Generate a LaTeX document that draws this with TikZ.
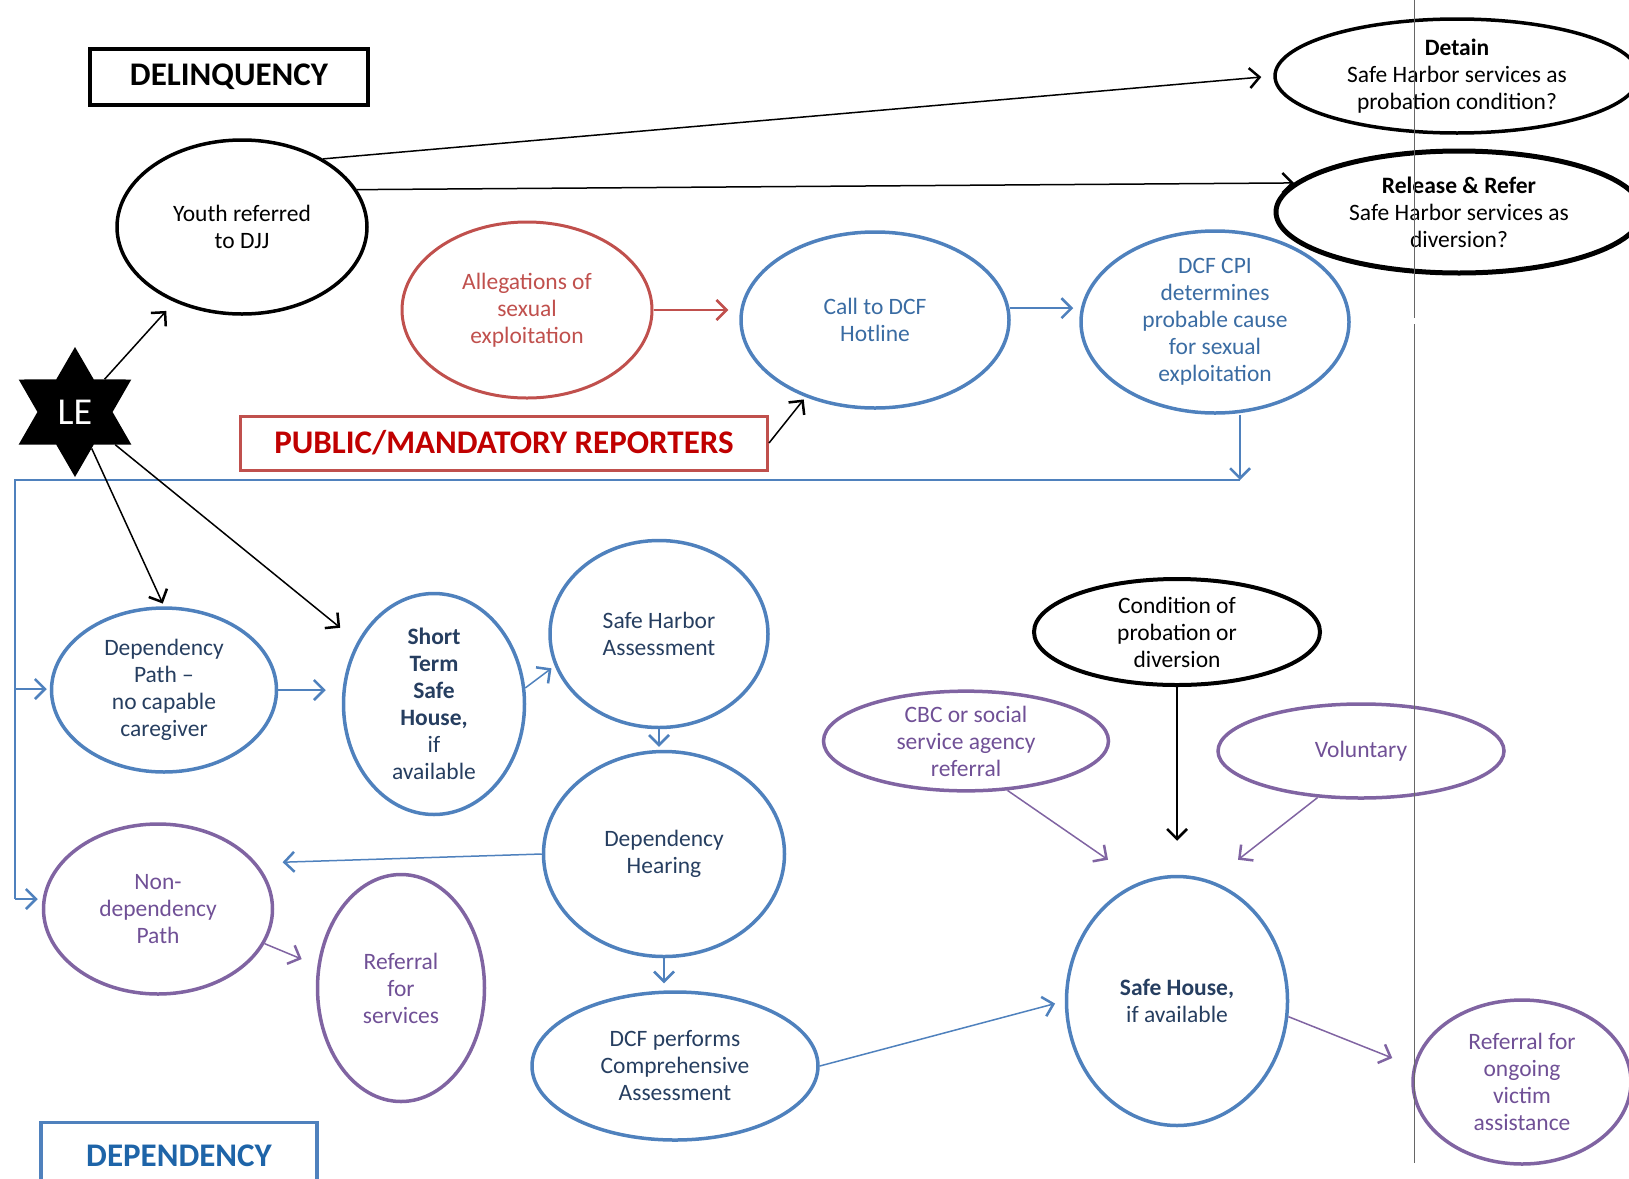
\documentclass[tikz,border=0pt]{standalone}
\usepackage{fontspec}
\setmainfont{Carlito}
\usetikzlibrary{shapes.geometric, arrows.meta}
\definecolor{ocblue}{RGB}{79,129,189}
\definecolor{ocred}{RGB}{192,80,77}
\definecolor{ocpurple}{RGB}{128,100,162}
\definecolor{navytext}{RGB}{38,62,96}
\definecolor{bluetext}{RGB}{58,108,163}
\definecolor{purpletext}{RGB}{112,80,150}
\definecolor{darkred}{RGB}{192,0,0}
\definecolor{deptext}{RGB}{30,100,168}

\tikzset{
  oval/.style={ellipse, inner sep=0pt, align=center, font=\fontsize{23.5}{27}\selectfont},
  blackoval/.style={oval, draw=black, line width=3.5pt},
  blueoval/.style={oval, draw=ocblue, line width=3.5pt, text=navytext},
  purpleoval/.style={oval, draw=ocpurple, line width=3.5pt, text=purpletext},
  redoval/.style={oval, draw=ocred, line width=3pt, text=ocred},
  titlebox/.style={rectangle, inner sep=0pt, font=\fontsize{33}{38}\selectfont\bfseries},
  arr/.style={line width=1.5pt, -{Straight Barb[length=10pt,width=20pt,line width=2.5pt]}},
  blackarr/.style={arr, draw=black},
  bluearr/.style={arr, draw=ocblue},
  redarr/.style={arr, draw=ocred},
  purplearr/.style={arr, draw=ocpurple}
}

\begin{document}
\begin{tikzpicture}[x=1pt, y=-1pt]
    \useasboundingbox (0,0) rectangle (1629,1178);

    % Delinquency
    \node[titlebox, draw=black, line width=3.5pt, minimum width=278pt, minimum height=56pt] (delinq) at (229,77) {DELINQUENCY};
    \node[blackoval, minimum width=250pt, minimum height=174pt] (youth) at (242,227) {Youth referred\\to DJJ};
    \node[blackoval, minimum width=364pt, minimum height=114pt] (detain) at (1457,76) {\textbf{Detain}\\Safe Harbor services as\\probation condition?};
    \node[blackoval, line width=5pt, minimum width=366pt, minimum height=122pt] (release) at (1459,212) {\textbf{Release \& Refer}\\Safe Harbor services as\\diversion?};
    \node[star, star points=6, star point ratio=1.73, fill=black, minimum size=130pt, inner sep=0pt, text=white, font=\fontsize{38}{42}\selectfont] (le) at (75,412) {LE};

    % Reporting
    \node[redoval, minimum width=250pt, minimum height=176pt] (alleg) at (527,310) {Allegations of\\sexual\\exploitation};
    \node[blueoval, text=bluetext, minimum width=268pt, minimum height=176pt] (call) at (875,320) {Call to DCF\\Hotline};
    \node[blueoval, text=bluetext, minimum width=268pt, minimum height=182pt] (cpi) at (1215,322) {DCF CPI\\determines\\probable cause\\for sexual\\exploitation};
    \node[titlebox, draw=ocred, line width=3pt, text=darkred, minimum width=527pt, minimum height=54pt] (public) at (504,443) {PUBLIC/MANDATORY REPORTERS};

    % Dependency
    \node[blueoval, minimum width=225pt, minimum height=164pt] (deppath) at (164,690) {Dependency\\Path –\\no capable\\caregiver};
    \node[blueoval, minimum width=181pt, minimum height=221pt] (shortterm) at (434,704) {\textbf{Short}\\\textbf{Term}\\\textbf{Safe}\\\textbf{House,}\\if\\available};
    \node[blueoval, minimum width=218pt, minimum height=187pt] (sha) at (659,634) {Safe Harbor\\Assessment};
    \node[blueoval, minimum width=241pt, minimum height=205pt] (hear) at (664,854) {Dependency\\Hearing};
    \node[blueoval, minimum width=286pt, minimum height=148pt] (dcfa) at (675,1066) {DCF performs\\Comprehensive\\Assessment};
    \node[purpleoval, minimum width=229pt, minimum height=170pt] (nondep) at (158,909) {Non-\\dependency\\Path};
    \node[purpleoval, minimum width=167pt, minimum height=227pt] (refsvc) at (401,988) {Referral\\for\\services};
    \node[titlebox, draw=ocblue, line width=3.5pt, text=deptext, minimum width=276pt, minimum height=67pt] (depbox) at (179,1156) {DEPENDENCY};

    % Safe house
    \node[blackoval, line width=4pt, minimum width=286pt, minimum height=106pt] (cond) at (1177,632) {Condition of\\probation or\\diversion};
    \node[purpleoval, minimum width=285pt, minimum height=99pt] (cbc) at (966,741) {CBC or social\\service agency\\referral};
    \node[purpleoval, minimum width=286pt, minimum height=94pt] (vol) at (1361,751) {Voluntary};
    \node[blueoval, minimum width=221pt, minimum height=249pt] (safe) at (1177,1001) {\textbf{Safe House,}\\if available};
    \node[purpleoval, minimum width=218pt, minimum height=164pt] (refong) at (1522,1082) {Referral for\\ongoing\\victim\\assistance};

    % Rail
    \coordinate (junc) at (1240,480);
    \coordinate (railtop) at (15,480);
    \coordinate (railmid) at (15,689);
    \coordinate (railend) at (15,899);
    \draw[bluearr] (junc |- cpi.south) -- (junc);
    \draw[ocblue, line width=1.5pt] (junc) -- (railtop) -- (railend);
    \draw[bluearr, shorten >=3pt] (railmid) -- (railmid -| deppath.west);
    \draw[bluearr, shorten >=4pt] (railend) -- (railend -| nondep.west);

    % Connectors
    \draw[blackarr, shorten >=12pt] (youth.40) -- (detain.west);
    \draw[blackarr] (youth.18) -- (release.170);
    \draw[blackarr, shorten >=12pt] (le) -- (youth);
    \draw[blackarr, shorten >=3pt] (le) -- (deppath.north);
    \draw[blackarr, shorten >=22pt] (le) -- (shortterm);
    \draw[redarr, shorten >=11pt] (alleg.east) -- (alleg.east -| call.west);
    \draw[bluearr, shorten >=6pt] (call.5) -- (call.5 -| cpi.west);
    \draw[blackarr, shorten >=3pt] (public.east) -- (call.228);
    \draw[bluearr, shorten >=16pt] (deppath.east) -- (deppath.east -| shortterm.west);
    \draw[bluearr, shorten >=4pt] (shortterm.10) -- (sha.197);
    \draw[bluearr, shorten >=3pt] (sha.south) -- (sha.south |- hear.north);
    \draw[bluearr, shorten >=26pt] (hear.west) -- (nondep.25);
    \draw[bluearr, shorten >=7pt] (hear.south) -- (hear.south |- dcfa.north);
    \draw[purplearr, shorten >=17pt] (nondep.-18) -- (refsvc.165);
    \draw[bluearr, shorten >=10pt] (dcfa.east) -- (safe.west);
    \draw[blackarr, shorten >=34pt] (cond.south) -- (safe.north);
    \draw[purplearr] (cbc.-50) -- ([xshift=-69pt,yshift=15pt]safe.north);
    \draw[purplearr] (vol.-133) -- ([xshift=61pt,yshift=15pt]safe.north);
    \draw[purplearr] (safe.-8) -- ([xshift=-19pt,yshift=24pt]refong.west);

    % scan line
    \draw[black!60, line width=1pt] (1414,0) -- (1414,318) (1414,324) -- (1414,1163);
\end{tikzpicture}
\end{document}
